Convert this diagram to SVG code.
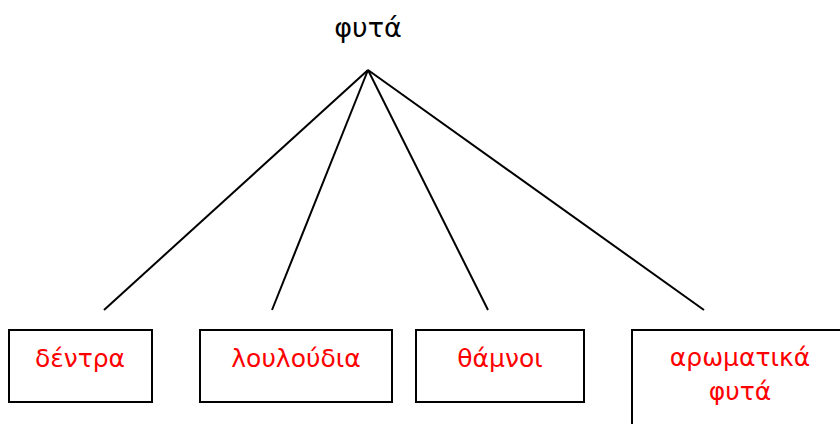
<svg xmlns="http://www.w3.org/2000/svg" width="840" height="424" viewBox="0 0 840 424">
<style>
.box{fill:#fff;stroke:#000;stroke-width:2}
.lbl{font-family:"DejaVu Sans",sans-serif;font-size:25px;fill:#ff0000;text-anchor:middle}
.root{font-family:"DejaVu Sans",sans-serif;font-size:27px;fill:#000;text-anchor:middle}
.conn line{stroke:#000;stroke-width:2}
</style>
<rect width="840" height="424" fill="#fff"/>
<g id="root"><text class="root" x="368" y="37">φυτά</text></g>
<g id="connectors" class="conn">
<line x1="368" y1="70" x2="104" y2="310"/>
<line x1="368" y1="70" x2="272" y2="310"/>
<line x1="368" y1="70" x2="488" y2="310"/>
<line x1="368" y1="70" x2="704" y2="310"/>
</g>
<g id="dentra"><rect class="box" x="9" y="330" width="143" height="72"/><text class="lbl" x="80" y="367">δέντρα</text></g>
<g id="louloudia"><rect class="box" x="200" y="330" width="192" height="72"/><text class="lbl" x="296" y="367">λουλούδια</text></g>
<g id="thamnoi"><rect class="box" x="416" y="330" width="168" height="72"/><text class="lbl" x="500" y="367">θάμνοι</text></g>
<g id="aromatika"><rect class="box" x="632" y="330" width="216" height="110"/><text class="lbl" x="740" y="366">αρωματικά</text><text class="lbl" x="740" y="400">φυτά</text></g>
</svg>
